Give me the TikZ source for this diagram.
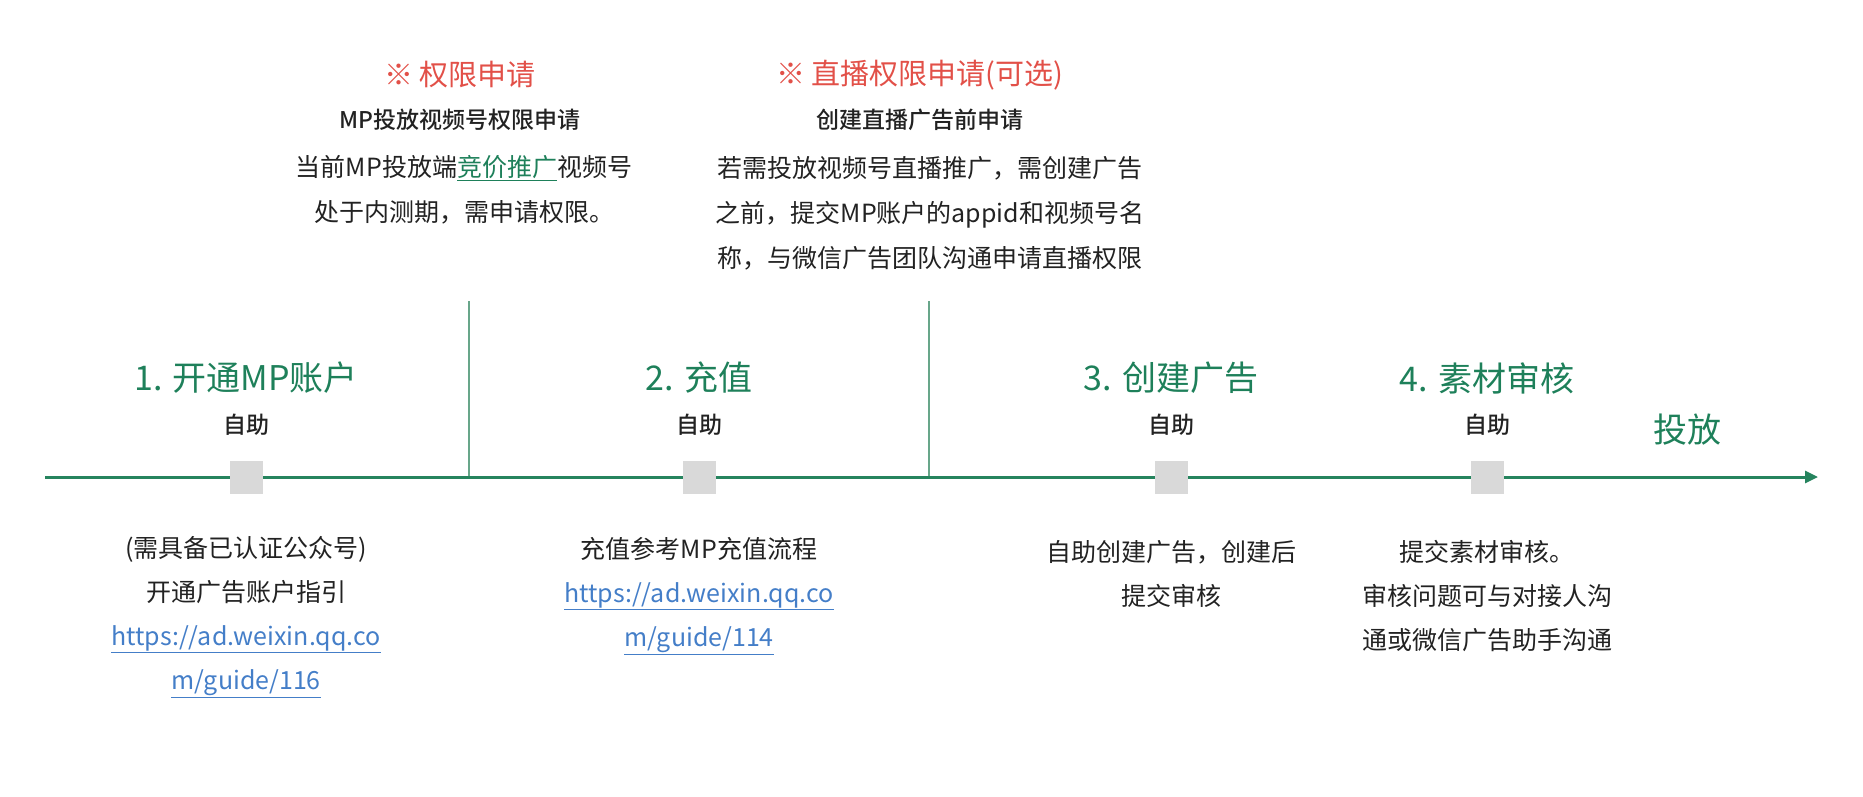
\documentclass[tikz,border=0pt]{standalone}
\usepackage{fontspec}
\setmainfont{Noto Sans CJK SC}[BoldFont={Noto Sans CJK SC Medium}]
\usetikzlibrary{positioning,arrows.meta}
\definecolor{stepgreen}{RGB}{30,128,90}
\definecolor{axisgreen}{RGB}{38,132,94}
\definecolor{sepgreen}{RGB}{104,166,138}
\definecolor{notered}{RGB}{226,80,72}
\definecolor{linkblue}{RGB}{68,126,200}
\definecolor{markgray}{RGB}{217,217,217}
\definecolor{bodytext}{RGB}{34,34,34}
\newcommand{\weblink}[1]{\textcolor{linkblue}{\underline{#1}}}
\newcommand{\keyword}[1]{\textcolor{stepgreen}{\underline{#1}}}

\begin{document}
\begin{tikzpicture}[x=1pt, y=-1pt, node distance=40pt, on grid,
    every node/.style={inner sep=0pt, text=bodytext},
    marker/.style={fill=markgray, minimum size=33pt},
    steptitle/.style={text=stepgreen, font=\fontsize{34}{40}\selectfont},
    finish/.style={text=stepgreen, font=\fontsize{34}{40}\selectfont},
    selfhelp/.style={font=\fontsize{23}{28}\selectfont\bfseries},
    desc/.style={align=center, font=\fontsize{25}{44}\selectfont},
    notetitle/.style={text=notered, font=\fontsize{29}{34}\selectfont},
    notesub/.style={font=\fontsize{23}{28}\selectfont\bfseries},
    notebody/.style={align=center, font=\fontsize{25}{45}\selectfont},
    axisline/.style={draw=axisgreen, line width=3pt, -{Triangle[length=13pt, width=12pt]}},
    sepline/.style={draw=sepgreen, line width=1.3pt}
  ]
  \useasboundingbox (0,0) rectangle (1863,796);

  \coordinate (axstart) at (45,477);
  \coordinate (axend) at (1818,477);
  \coordinate (sep1) at (469,301);
  \coordinate (sep2) at (929,301);

  \draw[sepline] (sep1) -- (sep1 |- axstart);
  \draw[sepline] (sep2) -- (sep2 |- axstart);
  \draw[axisline] (axstart) -- (axend);

  \node[marker] (m1) at (246,477) {};
  \node[marker] (m2) at (699,477) {};
  \node[marker] (m3) at (1171,477) {};
  \node[marker] (m4) at (1487,477) {};

  \node[selfhelp, above=52pt of m1] (h1) {自助};
  \node[selfhelp, above=52pt of m2] (h2) {自助};
  \node[selfhelp, above=52pt of m3] (h3) {自助};
  \node[selfhelp, above=52pt of m4] (h4) {自助};

  \node[steptitle, above=47pt of h1] (t1) {1. 开通MP账户};
  \node[steptitle, above=47pt of h2] (t2) {2. 充值};
  \node[steptitle, above=47pt of h3] (t3) {3. 创建广告};
  \node[steptitle, above=47pt of h4] (t4) {4. 素材审核};
  \node[finish] (go) at (1687,430) {投放};

  \node[desc, below=140pt of m1] (d1) {(需具备已认证公众号)\\开通广告账户指引\\
    \weblink{https://ad.weixin.qq.co}\\\weblink{m/guide/116}};
  \node[desc, below=119pt of m2] (d2) {充值参考MP充值流程\\
    \weblink{https://ad.weixin.qq.co}\\\weblink{m/guide/114}};
  \node[desc, below=97pt of m3] (d3) {自助创建广告，创建后\\提交审核};
  \node[desc, below=119pt of m4] (d4) {提交素材审核。\\审核问题可与对接人沟\\通或微信广告助手沟通};

  \node[notetitle] (n1) at (460,75) {※ 权限申请};
  \node[notesub, below=45pt of n1] (s1) {MP投放视频号权限申请};
  \node[notebody, below=70pt of s1, xshift=4pt] (b1) {当前MP投放端\keyword{竞价推广}视频号\\处于内测期，需申请权限。};

  \node[notetitle] (n2) at (920,75) {※ 直播权限申请(可选)};
  \node[notesub, below=45pt of n2] (s2) {创建直播广告前申请};
  \node[notebody, below=93pt of s2, xshift=10pt] (b2) {若需投放视频号直播推广，需创建广告\\
    之前，提交MP账户的appid和视频号名\\称，与微信广告团队沟通申请直播权限};
\end{tikzpicture}
\end{document}
